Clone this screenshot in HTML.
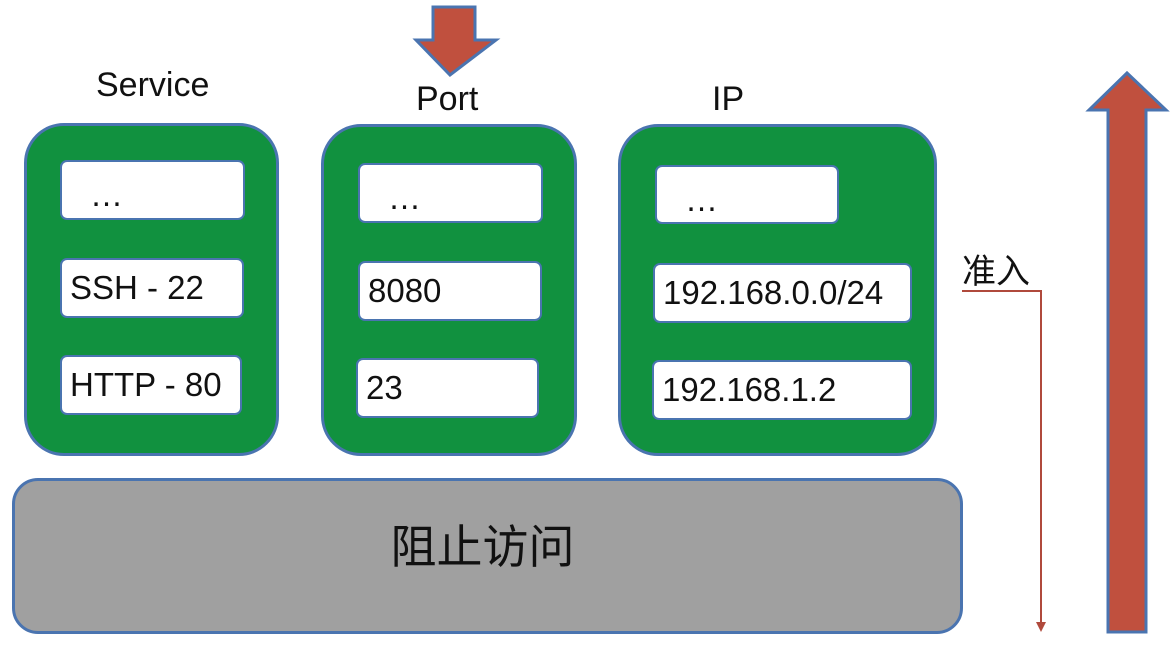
<!DOCTYPE html>
<html><head><style>
body{margin:0;width:1174px;height:672px;background:#fff;overflow:hidden;font-family:"Liberation Sans","Noto Sans CJK SC",sans-serif;position:relative}
.p{position:absolute;background:#11913f;border:3px solid #4a74b0;border-radius:40px;box-sizing:border-box}
.b{position:absolute;background:#fff;border:2px solid #4a74b0;border-radius:7px;box-sizing:border-box;font-size:33px;color:#111;padding-left:8px;display:flex;align-items:center}
.e{padding-left:28px;padding-top:10px}
.t{position:absolute;font-size:34px;color:#111}
</style></head><body>
<div class="t" style="left:96px;top:66px">Service</div>
<div class="t" style="left:416px;top:80px">Port</div>
<div class="t" style="left:712px;top:80px">IP</div>
<div class="p" style="left:24px;top:123px;width:255px;height:333px"></div>
<div class="p" style="left:321px;top:124px;width:256px;height:332px"></div>
<div class="p" style="left:618px;top:124px;width:319px;height:332px"></div>
<div class="b e" style="left:60px;top:160px;width:185px;height:60px">…</div>
<div class="b" style="left:60px;top:258px;width:184px;height:60px">SSH - 22</div>
<div class="b" style="left:60px;top:355px;width:182px;height:60px">HTTP - 80</div>
<div class="b e" style="left:358px;top:163px;width:185px;height:60px">…</div>
<div class="b" style="left:358px;top:261px;width:184px;height:60px">8080</div>
<div class="b" style="left:356px;top:358px;width:183px;height:60px">23</div>
<div class="b e" style="left:655px;top:165px;width:184px;height:59px">…</div>
<div class="b" style="left:653px;top:263px;width:259px;height:60px">192.168.0.0/24</div>
<div class="b" style="left:652px;top:360px;width:260px;height:60px">192.168.1.2</div>
<div style="position:absolute;left:12px;top:478px;width:951px;height:156px;background:#a0a0a0;border:3px solid #4a74b0;border-radius:26px;box-sizing:border-box;display:flex;align-items:center;justify-content:center;font-size:46px;color:#111;padding-bottom:24px;padding-right:10px">阻止访问</div>
<div class="t" style="left:962px;top:244px;font-size:34px">准入</div>
<svg style="position:absolute;left:0;top:0" width="1174" height="672">
<polygon points="433,7 475,7 475,40 496,40 450,75 416,40 433,40" fill="#c0503e" stroke="#4a74b0" stroke-width="3"/>
<polygon points="1108,632 1146,632 1146,110 1166,110 1127,73 1089,110 1108,110" fill="#c0503e" stroke="#4a74b0" stroke-width="3"/>
<polyline points="962,291 1041,291 1041,624" fill="none" stroke="#b04a3c" stroke-width="2"/>
<polygon points="1036,622 1046,622 1041,632" fill="#b04a3c"/>
</svg>
</body></html>
